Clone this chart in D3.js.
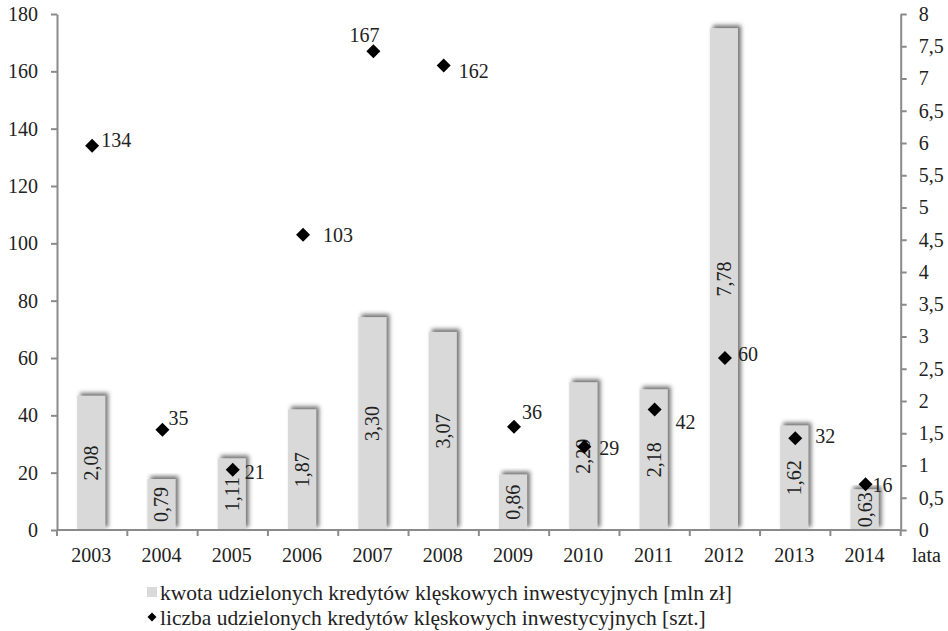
<!DOCTYPE html>
<html>
<head>
<meta charset="utf-8">
<script src="https://cdn.jsdelivr.net/npm/d3@7/dist/d3.min.js"></script>
<style>
  html, body { margin: 0; padding: 0; background: #fff; }
</style>
</head>
<body>
<svg id="chart" width="948" height="631" font-family="Liberation Serif"></svg>
<script>
// Lata, kwota kredytów (mln zł, prawa oś) i liczba kredytów (szt., lewa oś)
const years = ["2003","2004","2005","2006","2007","2008","2009","2010","2011","2012","2013","2014"];
const amounts = [2.08, 0.79, 1.11, 1.87, 3.30, 3.07, 0.86, 2.29, 2.18, 7.78, 1.62, 0.63];
const counts = [134, 35, 21, 103, 167, 162, 36, 29, 42, 60, 32, 16];
const leftTicks = [0, 20, 40, 60, 80, 100, 120, 140, 160, 180];
const rightTicks = [0, 0.5, 1, 1.5, 2, 2.5, 3, 3.5, 4, 4.5, 5, 5.5, 6, 6.5, 7, 7.5, 8];
const legendLabels = [
  "kwota udzielonych kredytów klęskowych inwestycyjnych [mln zł]",
  "liczba udzielonych kredytów klęskowych inwestycyjnych [szt.]"
];
const xAxisTitle = "lata";

(function draw() {
  const fmt = v => d3.format(",.2f")(v).replace(".", ",");
  const fmtTick = v => String(v).replace(".", ",");
  const serif = "Liberation Serif";

  const svg = d3.select("#chart");
  const plotLeft = 57, plotRight = 900.7, plotTop = 14, plotBottom = 530;
  const axisColor = "#8a8a8a";
  const textColor = "#222";
  const fontSize = 20;

  const x = d3.scaleBand().domain(years).range([plotLeft, plotRight]).padding(0);
  const yL = d3.scaleLinear().domain([0, 180]).range([plotBottom, plotTop]);
  const yR = d3.scaleLinear().domain([0, 8]).range([plotBottom, plotTop]);

  // soft shadow behind the bars, cast up and to the right
  const defs = svg.append("defs");
  const f = defs.append("filter").attr("id", "barShadow")
    .attr("x", "-30%").attr("y", "-10%").attr("width", "160%").attr("height", "120%");
  f.append("feDropShadow").attr("dx", 3).attr("dy", -3).attr("stdDeviation", 2)
    .attr("flood-color", "#444").attr("flood-opacity", 0.75);

  const cx = d => x(d) + x.bandwidth() / 2 - 1;

  // bars (right axis)
  const barW = x.bandwidth() * 0.4;
  svg.append("g").selectAll("rect").data(years).join("rect")
    .attr("x", d => cx(d) - barW / 2)
    .attr("width", barW)
    .attr("y", (d, i) => yR(amounts[i]))
    .attr("height", (d, i) => yR(0) - yR(amounts[i]))
    .attr("fill", "#d9d9d9")
    .attr("filter", "url(#barShadow)");

  // bar value labels, rotated
  svg.append("g").selectAll("text").data(years).join("text")
    .attr("transform", (d, i) => {
      const cy = (yR(amounts[i]) + yR(0)) / 2;
      return `translate(${cx(d)},${cy}) rotate(-90)`;
    })
    .attr("text-anchor", "middle")
    .attr("dy", "0.35em")
    .attr("font-family", serif)
    .attr("font-size", fontSize)
    .attr("fill", textColor)
    .text((d, i) => fmt(amounts[i]));

  // axes
  function styleAxis(g) {
    g.attr("font-family", serif);
    g.selectAll("path, line").attr("stroke", axisColor).attr("stroke-width", 2);
    g.selectAll("text").attr("font-size", fontSize).attr("fill", textColor).attr("font-family", serif);
  }

  svg.append("g").attr("transform", `translate(${plotLeft},0)`)
    .call(d3.axisLeft(yL).tickValues(leftTicks).tickSize(6).tickSizeOuter(0).tickPadding(13).tickFormat(fmtTick))
    .call(styleAxis);

  svg.append("g").attr("transform", `translate(${plotRight},0)`)
    .call(d3.axisRight(yR).tickValues(rightTicks).tickSize(6).tickSizeOuter(0).tickPadding(12).tickFormat(fmtTick))
    .call(styleAxis);

  // x axis: baseline, boundary ticks, centred year labels
  const xg = svg.append("g");
  xg.append("line").attr("x1", plotLeft).attr("x2", plotRight).attr("y1", plotBottom).attr("y2", plotBottom)
    .attr("stroke", axisColor).attr("stroke-width", 2);
  const bounds = years.map(d => x(d)).concat([plotRight]);
  xg.selectAll("line.tick").data(bounds).join("line").attr("class", "tick")
    .attr("x1", d => d).attr("x2", d => d).attr("y1", plotBottom).attr("y2", plotBottom + 6)
    .attr("stroke", axisColor).attr("stroke-width", 2);
  xg.selectAll("text.year").data(years).join("text").attr("class", "year")
    .attr("x", d => cx(d))
    .attr("y", 562)
    .attr("text-anchor", "middle")
    .attr("font-family", serif)
    .attr("font-size", fontSize).attr("fill", textColor)
    .text(d => d);
  xg.append("text").attr("x", 912).attr("y", 562)
    .attr("font-family", serif)
    .attr("font-size", fontSize).attr("fill", textColor).text(xAxisTitle);

  // diamonds (left axis)
  const diamond = d3.symbol().type(d3.symbolSquare).size(98);
  svg.append("g").selectAll("path").data(years).join("path")
    .attr("d", diamond)
    .attr("transform", (d, i) => `translate(${x(d) + x.bandwidth() / 2},${yL(counts[i])}) rotate(45)`)
    .attr("fill", "#000");

  // count labels beside each diamond
  const labelShift = {
    "2003": [9, -6, "start"], "2004": [6, -12, "start"], "2005": [12, 2, "start"],
    "2006": [20, 0, "start"], "2007": [-9, -16, "middle"], "2008": [15, 5, "start"],
    "2009": [8, -15, "start"], "2010": [15, 1, "start"], "2011": [21, 12, "start"],
    "2012": [13, -4, "start"], "2013": [20, -2, "start"], "2014": [7, 1, "start"]
  };
  svg.append("g").selectAll("text").data(years).join("text")
    .attr("x", d => x(d) + x.bandwidth() / 2 + labelShift[d][0])
    .attr("y", (d, i) => yL(counts[i]) + labelShift[d][1])
    .attr("dy", "0.35em")
    .attr("text-anchor", d => labelShift[d][2])
    .attr("font-family", serif)
    .attr("font-size", fontSize).attr("fill", textColor)
    .text((d, i) => counts[i]);

  // legend
  const lg = svg.append("g");
  lg.append("rect").attr("x", 147).attr("y", 587).attr("width", 10).attr("height", 10).attr("fill", "#d9d9d9");
  lg.append("path").attr("d", d3.symbol().type(d3.symbolSquare).size(40))
    .attr("transform", "translate(152,617) rotate(45)").attr("fill", "#000");
  lg.selectAll("text").data(legendLabels).join("text")
    .attr("x", 160).attr("y", (d, i) => 592 + i * 25).attr("dy", "0.35em")
    .attr("font-family", serif)
    .attr("font-size", 21.5).attr("fill", textColor)
    .text(d => d);
})();
</script>
</body>
</html>
